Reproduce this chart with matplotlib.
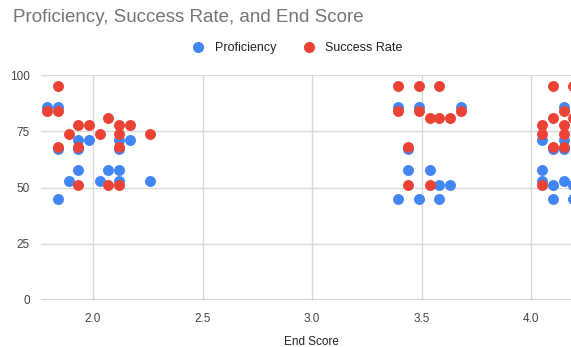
import matplotlib
matplotlib.use("Agg")
import matplotlib.pyplot as plt
from matplotlib.lines import Line2D

plt.rcParams['font.family'] = ['Liberation Sans', 'DejaVu Sans']

# Proficiency points (End Score, Proficiency)
prof_x = [1.79, 1.84, 1.84, 1.84, 1.89, 1.93, 1.93, 1.93, 1.98, 2.03, 2.07,
          2.12, 2.12, 2.12, 2.12, 2.17, 2.26,
          3.39, 3.39, 3.44, 3.44, 3.49, 3.49, 3.54, 3.58, 3.58, 3.63, 3.68,
          4.05, 4.05, 4.05, 4.10, 4.10, 4.10, 4.15, 4.15, 4.15, 4.15, 4.19, 4.19]
prof_y = [86, 86, 67, 45, 53, 71, 67, 58, 71, 53, 58,
          71, 67, 58, 53, 71, 53,
          86, 45, 67, 58, 86, 45, 58, 51, 45, 51, 86,
          71, 58, 53, 67, 51, 45, 86, 71, 67, 53, 51, 45]

# Success Rate points (End Score, Success Rate)
succ_x = [1.79, 1.84, 1.84, 1.84, 1.89, 1.93, 1.93, 1.93, 1.98, 2.03, 2.07, 2.07,
          2.12, 2.12, 2.12, 2.12, 2.17, 2.26,
          3.39, 3.39, 3.44, 3.44, 3.49, 3.49, 3.54, 3.54, 3.58, 3.58, 3.63, 3.68,
          4.05, 4.05, 4.05, 4.10, 4.10, 4.10, 4.15, 4.15, 4.15, 4.15, 4.19, 4.19]
succ_y = [84, 95, 84, 68, 74, 78, 68, 51, 78, 74, 81, 51,
          78, 74, 68, 51, 78, 74,
          95, 84, 68, 51, 95, 84, 81, 51, 95, 81, 81, 84,
          78, 74, 51, 95, 81, 68, 84, 78, 74, 68, 95, 81]

x_ticks = [2.0, 2.5, 3.0, 3.5, 4.0]
y_ticks = [0, 25, 50, 75, 100]

blue = "#4285F4"
red = "#EA4335"

fig = plt.figure(figsize=(5.71, 3.47), dpi=100)
ax = fig.add_axes([41 / 571, 47 / 347, 530 / 571, 225 / 347])

ax.scatter(prof_x, prof_y, s=62, color=blue, linewidths=0, zorder=3)
ax.scatter(succ_x, succ_y, s=62, color=red, linewidths=0, zorder=4)

ax.set_xlim(1.762, 4.182)
ax.set_ylim(0, 100)
ax.set_xticks(x_ticks)
ax.set_xticklabels(["%.1f" % t for t in x_ticks])
ax.set_yticks(y_ticks)
ax.grid(True, color="#d9d9d9", linewidth=1, zorder=0)
ax.axhline(0, color="#333333", linewidth=1, zorder=2)
for s in ax.spines.values():
    s.set_visible(False)
ax.tick_params(length=0, labelsize=8.5, colors="#444444")
ax.tick_params(axis="x", pad=9)
ax.tick_params(axis="y", pad=8)

fig.text(13 / 571, 1 - 18 / 347, "Proficiency, Success Rate, and End Score",
         fontsize=13.5, color="#757575", va="center", ha="left")
fig.text(311 / 571, 1 - 342 / 347, "End Score", fontsize=8.5,
         color="#222222", ha="center", va="center")

handles = [Line2D([], [], marker="o", linestyle="", markersize=8,
                  markerfacecolor=blue, markeredgewidth=0, label="Proficiency"),
           Line2D([], [], marker="o", linestyle="", markersize=8,
                  markerfacecolor=red, markeredgewidth=0, label="Success Rate")]
fig.legend(handles=handles, loc="center", bbox_to_anchor=(294 / 571, 1 - 48 / 347),
           ncol=2, frameon=False, fontsize=9, handletextpad=0.3,
           columnspacing=1.6, labelcolor="#222222")

plt.savefig("out.png", dpi=100)
